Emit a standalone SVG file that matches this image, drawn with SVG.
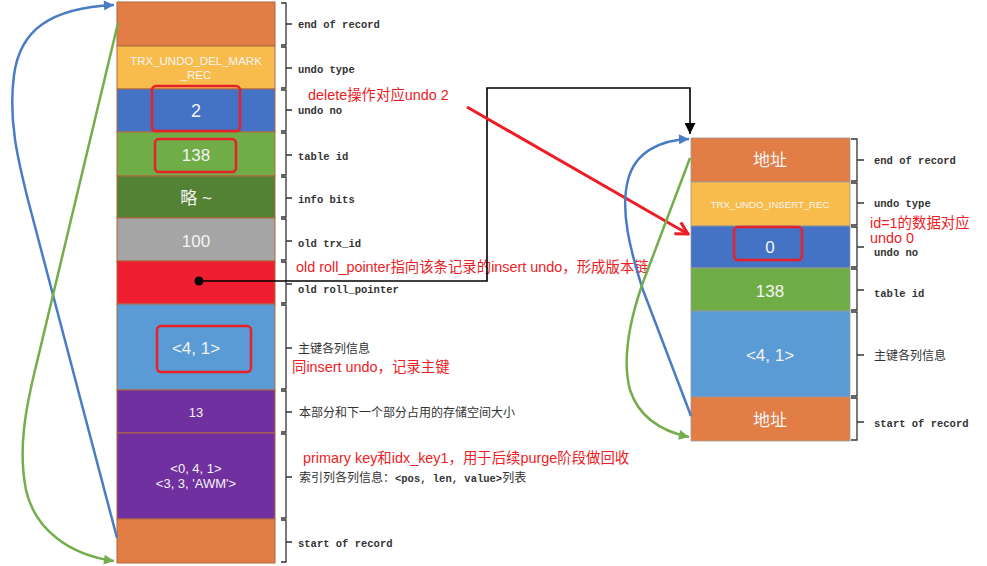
<svg xmlns="http://www.w3.org/2000/svg" width="987" height="566" viewBox="0 0 987 566">
<style>
.lbl{font-family:"Liberation Mono","Noto Sans CJK SC",monospace;font-size:10.5px;font-weight:bold;fill:#333}
.cj{font-family:"Noto Sans CJK SC",sans-serif;font-size:12px;font-weight:normal}
.nt{font-family:"Liberation Sans","Noto Sans CJK SC",sans-serif;fill:#f4f4f4;text-anchor:middle}
.ann{font-family:"Liberation Sans","Noto Sans CJK SC",sans-serif;font-size:14.4px;fill:#ee1c25}
.br{fill:none;stroke:#333;stroke-width:1.3}
.hl{fill:none;stroke:#e8202a;stroke-width:2.5}
.rowL{stroke:#b0683f;stroke-width:1}
.rowR{stroke:#9a9a9a;stroke-width:0.8}
</style>
<defs>
<marker id="mk" viewBox="0 0 10 10" refX="10" refY="5" markerWidth="11" markerHeight="11" markerUnits="userSpaceOnUse" orient="auto"><path d="M0,0 L10,5 L0,10 z" fill="#000"/></marker>
<marker id="mr" viewBox="0 0 16 16" refX="14" refY="8" markerWidth="16" markerHeight="16" markerUnits="userSpaceOnUse" orient="auto"><path d="M2,1.5 L14,8 L2,14.5" fill="none" stroke="#ee1c25" stroke-width="3"/></marker>
<marker id="mb" viewBox="0 0 10 10" refX="10" refY="5" markerWidth="12" markerHeight="10" markerUnits="userSpaceOnUse" orient="auto"><path d="M0,0 L10,5 L0,10 z" fill="#4a7cc4"/></marker>
<marker id="mg" viewBox="0 0 10 10" refX="10" refY="5" markerWidth="12" markerHeight="10" markerUnits="userSpaceOnUse" orient="auto"><path d="M0,0 L10,5 L0,10 z" fill="#74ae4c"/></marker>
</defs>
<rect width="987" height="566" fill="#fff"/>

<g id="left-record">
<rect class="rowL" x="117" y="2" width="158" height="44" fill="#e27d46"/>
<rect class="rowL" x="117" y="46" width="158" height="43" fill="#f8bc4c"/>
<rect class="rowL" x="117" y="89" width="158" height="43" fill="#4472c4"/>
<rect class="rowL" x="117" y="132" width="158" height="44" fill="#70ad47"/>
<rect class="rowL" x="117" y="176" width="158" height="42" fill="#548235"/>
<rect class="rowL" x="117" y="218" width="158" height="43" fill="#a5a5a5"/>
<rect class="rowL" x="117" y="261" width="158" height="43" fill="#ee1d2f"/>
<rect class="rowL" x="117" y="304" width="158" height="86" fill="#5b9bd5"/>
<rect class="rowL" x="117" y="390" width="158" height="43" fill="#7030a0"/>
<rect class="rowL" x="117" y="433" width="158" height="86" fill="#7030a0"/>
<rect class="rowL" x="117" y="519" width="158" height="44" fill="#e27d46"/>
<text class="nt" x="196" y="65" font-size="11.5" fill="#fbe9cc">TRX_UNDO_DEL_MARK</text>
<text class="nt" x="196" y="79" font-size="11.5" fill="#fbe9cc">_REC</text>
<text class="nt" x="196" y="117" font-size="18">2</text>
<text class="nt" x="196" y="161" font-size="17">138</text>
<text class="nt" x="196" y="204" font-size="17">略 ~</text>
<text class="nt" x="196" y="247" font-size="17">100</text>
<circle cx="199" cy="281" r="4.5" fill="#000"/>
<text class="nt" x="196" y="354" font-size="17">&lt;4, 1&gt;</text>
<text class="nt" x="196" y="417" font-size="13">13</text>
<text class="nt" x="196" y="473" font-size="13">&lt;0, 4, 1&gt;</text>
<text class="nt" x="196" y="488" font-size="13">&lt;3, 3, 'AWM'&gt;</text>
<rect class="hl" x="152" y="86" width="88" height="45" rx="4"/>
<rect class="hl" x="155" y="139" width="81" height="33" rx="4"/>
<rect class="hl" x="157" y="326" width="94" height="46" rx="4"/>
</g>

<g id="left-labels">
<path class="br" d="M281,3 H286 V45 H281 M286,24 H292"/>
<path class="br" d="M281,47 H286 V88 H281 M286,68 H292"/>
<path class="br" d="M281,90 H286 V131 H281 M286,110 H292"/>
<path class="br" d="M281,133 H286 V175 H281 M286,155 H292"/>
<path class="br" d="M281,177 H286 V217 H281 M286,198 H292"/>
<path class="br" d="M281,219 H286 V260 H281 M286,241 H292"/>
<path class="br" d="M281,262 H286 V303 H281 M286,284 H292"/>
<path class="br" d="M281,305 H286 V389 H281 M286,348 H292"/>
<path class="br" d="M281,391 H286 V432 H281 M286,412 H292"/>
<path class="br" d="M281,434 H286 V518 H281 M286,477 H292"/>
<path class="br" d="M281,520 H286 V562 H281 M286,542 H292"/>
<text class="lbl" x="298" y="28">end of record</text>
<text class="lbl" x="298" y="73">undo type</text>
<text class="lbl" x="298" y="114">undo no</text>
<text class="lbl" x="298" y="160">table id</text>
<text class="lbl" x="298" y="203">info bits</text>
<text class="lbl" x="298" y="247">old trx_id</text>
<text class="lbl" x="298" y="293">old roll_pointer</text>
<text class="lbl" x="298" y="353"><tspan class="cj">主键各列信息</tspan></text>
<text class="lbl" x="299" y="417"><tspan class="cj">本部分和下一个部分占用的存储空间大小</tspan></text>
<text class="lbl" x="299" y="482"><tspan class="cj">索引列各列信息：</tspan>&lt;pos, len, value&gt;<tspan class="cj">列表</tspan></text>
<text class="lbl" x="298" y="547">start of record</text>
</g>

<g id="right-record">
<rect class="rowR" x="691" y="138" width="159" height="44" fill="#e27d46"/>
<rect class="rowR" x="691" y="182" width="159" height="44" fill="#f8bc4c"/>
<rect class="rowR" x="691" y="226" width="159" height="42" fill="#4472c4"/>
<rect class="rowR" x="691" y="268" width="159" height="43" fill="#70ad47"/>
<rect class="rowR" x="691" y="311" width="159" height="86" fill="#5b9bd5"/>
<rect class="rowR" x="691" y="397" width="159" height="44" fill="#e27d46"/>
<text class="nt" x="770" y="166" font-size="17">地址</text>
<text class="nt" x="770" y="208" font-size="9.6" fill="#fbe9cc">TRX_UNDO_INSERT_REC</text>
<text class="nt" x="770" y="253" font-size="17">0</text>
<text class="nt" x="770" y="297" font-size="17">138</text>
<text class="nt" x="770" y="361" font-size="17">&lt;4, 1&gt;</text>
<text class="nt" x="770" y="426" font-size="17">地址</text>
<rect class="hl" x="734" y="227" width="68" height="33" rx="4"/>
</g>

<g id="right-labels">
<path class="br" d="M851,139 H857 V181 H851 M857,160 H864"/>
<path class="br" d="M851,183 H857 V225 H851 M857,203 H864"/>
<path class="br" d="M851,227 H857 V267 H851 M857,247 H864"/>
<path class="br" d="M851,269 H857 V310 H851 M857,290 H864"/>
<path class="br" d="M851,312 H857 V396 H851 M857,355 H864"/>
<path class="br" d="M851,398 H857 V440 H851 M857,422 H864"/>
<text class="lbl" x="874" y="164">end of record</text>
<text class="lbl" x="874" y="207">undo type</text>
<text class="lbl" x="874" y="256">undo no</text>
<text class="lbl" x="874" y="297">table id</text>
<text class="lbl" x="874" y="360"><tspan class="cj">主键各列信息</tspan></text>
<text class="lbl" x="874" y="427">start of record</text>
</g>

<g id="annotations">
<text class="ann" x="308" y="100">delete操作对应undo 2</text>
<text class="ann" x="296" y="272">old roll_pointer指向该条记录的insert undo，形成版本链</text>
<text class="ann" x="292" y="372">同insert undo，记录主键</text>
<text class="ann" x="303" y="463">primary key和idx_key1，用于后续purge阶段做回收</text>
<text class="ann" x="870" y="228">id=1的数据对应</text>
<text class="ann" x="870" y="243">undo 0</text>
</g>

<g id="connectors" fill="none">
<path d="M199,281 H487 V88 H690 V134" stroke="#000" stroke-width="1.6" marker-end="url(#mk)"/>
<path d="M467,107 L688,234" stroke="#ee1c25" stroke-width="3" marker-end="url(#mr)"/>
<path d="M117,538 L28,200 C18,160 8,120 14,75 C20,30 50,8 114,5" stroke="#4a7cc4" stroke-width="2.5" marker-end="url(#mb)"/>
<path d="M118,23 L37,362 C25,410 18,450 26,490 C35,530 70,555 114,561" stroke="#74ae4c" stroke-width="2.5" marker-end="url(#mg)"/>
<path d="M691,416 L643,290 C630,250 620,210 628,180 C635,152 660,140 689,139" stroke="#4a7cc4" stroke-width="2.5" marker-end="url(#mb)"/>
<path d="M690,158 L642,285 C630,320 622,360 630,390 C640,420 665,432 689,437" stroke="#74ae4c" stroke-width="2.5" marker-end="url(#mg)"/>
</g>
</svg>
